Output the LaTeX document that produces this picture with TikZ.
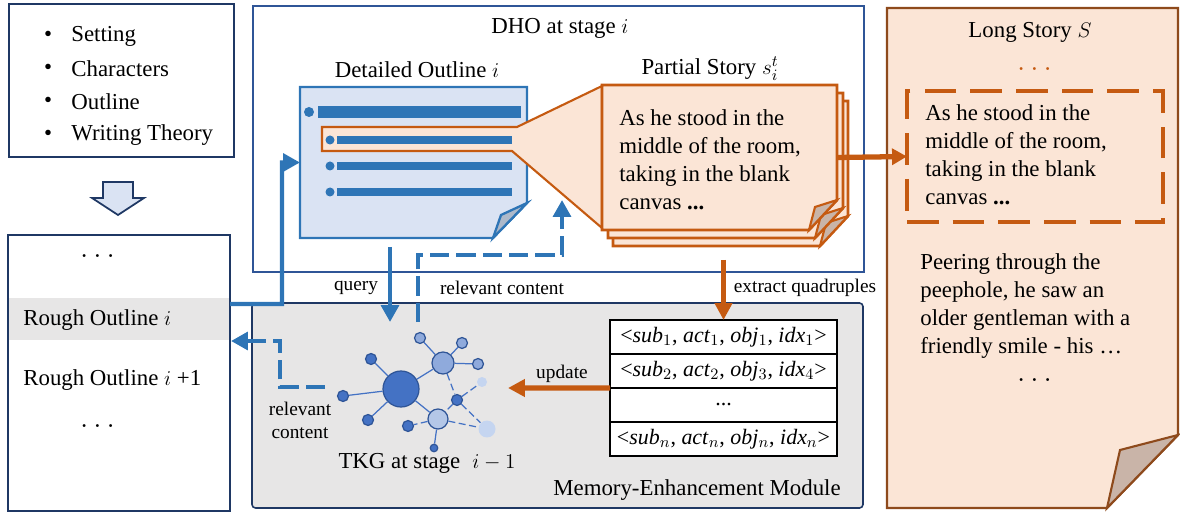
\documentclass[tikz,border=0pt]{standalone}
\usepackage{fontspec}
\setmainfont{Liberation Serif}
\usepackage{amsmath}
\usetikzlibrary{arrows.meta,positioning,fit}

\definecolor{navy}{HTML}{1F3864}
\definecolor{dhoblue}{HTML}{2F5597}
\definecolor{lineblue}{HTML}{2E75B6}
\definecolor{paleblue}{HTML}{DAE3F3}
\definecolor{foldgray}{HTML}{ADB9CA}
\definecolor{rust}{HTML}{C55A11}
\definecolor{peach}{HTML}{FBE5D6}
\definecolor{storybrown}{HTML}{8E4A1C}
\definecolor{foldbrown}{HTML}{C9B4A8}
\definecolor{panelgray}{HTML}{E7E6E6}
\definecolor{nodedark}{HTML}{4472C4}
\definecolor{nodemid}{HTML}{8FAADC}
\definecolor{nodelight}{HTML}{B4C7E7}
\definecolor{nodefade}{HTML}{C5D5F0}

\tikzset{
  lbl/.style={font=\fontsize{13}{15.9}\selectfont, inner sep=0pt},
  dotlbl/.style={font=\fontsize{17}{18}\selectfont, inner sep=0pt},
  smalllbl/.style={font=\fontsize{11}{13}\selectfont, inner sep=0pt},
  panelbox/.style={inner sep=0pt, outer sep=0pt},
  flow/.style={lineblue, line width=2.5pt, -{Triangle[length=9.6pt,width=10pt]}},
  flowdash/.style={flow, dash pattern=on 11pt off 4pt},
  extract/.style={rust, line width=3pt, -{Triangle[length=9.6pt,width=9.6pt]}},
  gnode/.style={circle, inner sep=0pt, draw=dhoblue, line width=0.7pt, minimum size=#1},
  gedge/.style={nodedark, line width=0.7pt},
  quadrow/.style={draw=black, line width=0.8pt, fill=white, minimum width=4.54cm,
    minimum height=0.68cm, inner sep=0pt, outer sep=0pt, font=\fontsize{12.5}{14}\selectfont},
}
\newcommand{\qterm}[2]{\textit{#1}$_{#2}$}

\begin{document}
\begin{tikzpicture}[x=0.02cm, y=-0.02cm]
    \useasboundingbox (0,0) rectangle (1180,513);

    % Inputs
    \node[panelbox, fit={(9,4)(234,157)}, draw=navy, line width=1.4pt] (inputs) {};
    \foreach \i/\txt in {1/Setting, 2/Characters, 3/Outline, 4/Writing Theory} {
        \node[lbl] (bullet\i) at (48,3+33*\i) {\textbullet};
        \node[lbl, anchor=west] (item\i) at (71,3+33*\i) {\txt};
    }

    % Down arrow
    \draw[navy, line width=1pt, fill=paleblue] (103,182) -- (133,182) -- (133,198) -- (144,198)
        -- (118,215) -- (92,198) -- (103,198) -- cycle;

    % Rough outlines
    \node[panelbox, fit={(8,235)(230,511)}, draw=navy, line width=1.3pt] (rough) {};
    \node[panelbox, fit={(9,298)(229,340)}, fill=panelgray] (roughi) {};
    \node[dotlbl] (dotsa) at (100,256) {$\dots$};
    \node[lbl, anchor=west] (roughlbl) at (23,320) {Rough Outline $i$};
    \node[lbl, anchor=west] (roughnext) at (23,380) {Rough Outline $i$ +1};
    \node[dotlbl] (dotsb) at (100,426) {$\dots$};
    \coordinate (rofrom) at (230,304);
    \coordinate (roto) at (231,341);

    % DHO
    \node[panelbox, fit={(253,6)(864,272)}, draw=dhoblue, line width=1.2pt] (dho) {};
    \node[lbl] (dholbl) at (560,28) {DHO at stage $i$};
    \node[lbl] (outlinelbl) at (417,70) {Detailed Outline $i$};
    \node[lbl] (partiallbl) at (710,69) {Partial Story $s_i^t$};

    % Detailed outline page
    \node[panelbox, fit={(300,87)(527,238)}] (outline) {};
    \draw[lineblue, line width=1.3pt, fill=paleblue] (300,87) -- (527,87) -- (527,203)
        -- (493,238) -- (300,238) -- cycle;
    \draw[lineblue, line width=1.3pt, fill=foldgray] (527,203) -- (501,215) -- (493,238) -- cycle;

    % Zoom funnel
    \draw[rust, line width=1.2pt, fill=peach] (322,127) -- (517,127) -- (602,86) -- (602,228)
        -- (512,151) -- (322,151) -- cycle;

    % Outline bullets
    \fill[lineblue] (309,112) circle (5);
    \fill[lineblue] (318,106) rectangle (521,118);
    \foreach \y in {140,166,192} {
        \fill[lineblue] (330,\y) circle (4.5);
        \fill[lineblue] (337,\y-4) rectangle (512,\y+4);
    }

    % Partial story pages
    \foreach \dx/\dy in {11/16, 6/8, 0/0} {
        \draw[rust, line width=1.6pt, fill=peach] (602+\dx,85+\dy) -- (837+\dx,85+\dy)
            -- (837+\dx,200+\dy) -- (809+\dx,230+\dy) -- (602+\dx,230+\dy) -- cycle;
        \draw[rust, line width=1.2pt, fill=foldbrown] (837+\dx,200+\dy) -- (815+\dx,207+\dy)
            -- (809+\dx,230+\dy) -- cycle;
    }
    \node[panelbox, fit={(602,85)(837,230)}] (partial) {};
    \node[lbl, anchor=north west, align=left] (partialtxt) at (619,109)
        {As he stood in the\\middle of the room,\\taking in the blank\\canvas \textbf{...}};

    % Long story page
    \draw[storybrown, line width=1.3pt, fill=peach] (887,8) -- (1178,8) -- (1178,435)
        -- (1107,508) -- (887,508) -- cycle;
    \draw[storybrown, line width=1.2pt, fill=foldbrown] (1178,435) -- (1120,450) -- (1107,508) -- cycle;
    \node[panelbox, fit={(887,8)(1178,508)}] (longstory) {};
    \node[lbl] (longlbl) at (1030,32) {Long Story $S$};
    \node[dotlbl, text=rust] (dotsc) at (1037,69) {$\dots$};
    \node[panelbox, fit={(907,91)(1163,222)}, draw=rust, line width=2pt,
        dash pattern=on 18pt off 8pt] (excerpt) {};
    \node[lbl, anchor=north west, align=left] (excerpttxt) at (925,104)
        {As he stood in the\\middle of the room,\\taking in the blank\\canvas \textbf{...}};
    \node[lbl, anchor=north west, align=left] (peeringtxt) at (920,253)
        {Peering through the\\peephole, he saw an\\older gentleman with a\\friendly smile - his \ldots};
    \node[dotlbl] (dotsd) at (1037,380) {$\dots$};

    % Memory module
    \node[panelbox, fit={(252,303)(863,508)}, draw=navy, fill=panelgray, line width=0.9pt,
        rounded corners=2pt] (memory) {};
    \node[lbl, anchor=east] (memorylbl) at (841,490) {Memory-Enhancement Module};
    \node[lbl] (tkglbl) at (427,463) {TKG at stage\; $i-1$};

    % TKG graph
    \node[gnode=0.72cm, fill=nodedark] (hub) at (401,389) {};
    \node[gnode=0.44cm, fill=nodemid] (ga) at (443,363) {};
    \node[gnode=0.22cm, fill=nodemid] (gb) at (420,338) {};
    \node[gnode=0.22cm, fill=nodemid] (gc) at (462,343) {};
    \node[gnode=0.22cm, fill=nodemid] (gd) at (478,364) {};
    \node[gnode=0.22cm, fill=nodedark] (ge) at (371,359) {};
    \node[gnode=0.22cm, fill=nodedark] (gf) at (343,396) {};
    \node[gnode=0.22cm, fill=nodedark] (gg) at (368,420) {};
    \node[gnode=0.22cm, fill=nodedark] (gh) at (457,400) {};
    \node[gnode=0.2cm, fill=nodefade, draw=none] (gi) at (482,382) {};
    \node[gnode=0.4cm, fill=nodelight] (gj) at (438,419) {};
    \node[gnode=0.22cm, fill=nodedark] (gk) at (408,426) {};
    \node[gnode=0.34cm, fill=nodefade, draw=none] (gl) at (487,429) {};
    \node[gnode=0.15cm, fill=nodedark] (gm) at (434,448) {};
    \foreach \a/\b in {hub/ga, hub/ge, hub/gf, hub/gg, hub/gj, ga/gb, ga/gc, ga/gd, gj/gm}
        \draw[gedge] (\a) -- (\b);
    \foreach \a/\b in {ga/gh, gh/gi, gh/gj, gh/gl, gj/gl, gj/gk}
        \draw[gedge, dash pattern=on 4pt off 2pt] (\a) -- (\b);

    % Quadruples
    \node[quadrow] (q1) at (723.5,337) {<\qterm{sub}{1}, \qterm{act}{1}, \qterm{obj}{1}, \qterm{idx}{1}>};
    \node[quadrow, below=0pt of q1] (q2) {<\qterm{sub}{2}, \qterm{act}{2}, \qterm{obj}{3}, \qterm{idx}{4}>};
    \node[quadrow, below=0pt of q2] (q3) {...};
    \node[quadrow, below=0pt of q3] (q4) {<\qterm{sub}{n}, \qterm{act}{n}, \qterm{obj}{n}, \qterm{idx}{n}>};

    % Connectors
    \coordinate (querytop) at (390,247);
    \coordinate (querytip) at (390,322);
    \coordinate (relfrom) at (418,322);
    \coordinate (reltip) at (562,200);
    \coordinate (tkgout) at (325,387);
    \coordinate (extractfrom) at (723.5,260);
    \coordinate (updatetip) at (508,388);
    \draw[flow] (rofrom) -| (282,162.5) -- (outline.west);
    \draw[flow] (querytop) -- (querytip);
    \draw[flowdash] (relfrom) -- (418,255) -| (reltip);
    \draw[flowdash] (tkgout) -| (280,341) -- (roto);
    \draw[extract] (extractfrom) -- (q1.north);
    \draw[extract] (q3.north west) -- (updatetip);
    \draw[rust, line width=3pt, -{Triangle[length=8.5pt,width=9pt]}] (partial.east) -- (excerpt.west);

    % Connector labels
    \node[smalllbl] (querylbl) at (356,288) {query};
    \node[smalllbl] (rellbl) at (502,288) {relevant content};
    \node[smalllbl] (extractlbl) at (805,288) {extract quadruples};
    \node[smalllbl] (updatelbl) at (562,374) {update};
    \node[smalllbl, align=center] (rel2lbl) at (300,420) {relevant\\content};
\end{tikzpicture}
\end{document}
